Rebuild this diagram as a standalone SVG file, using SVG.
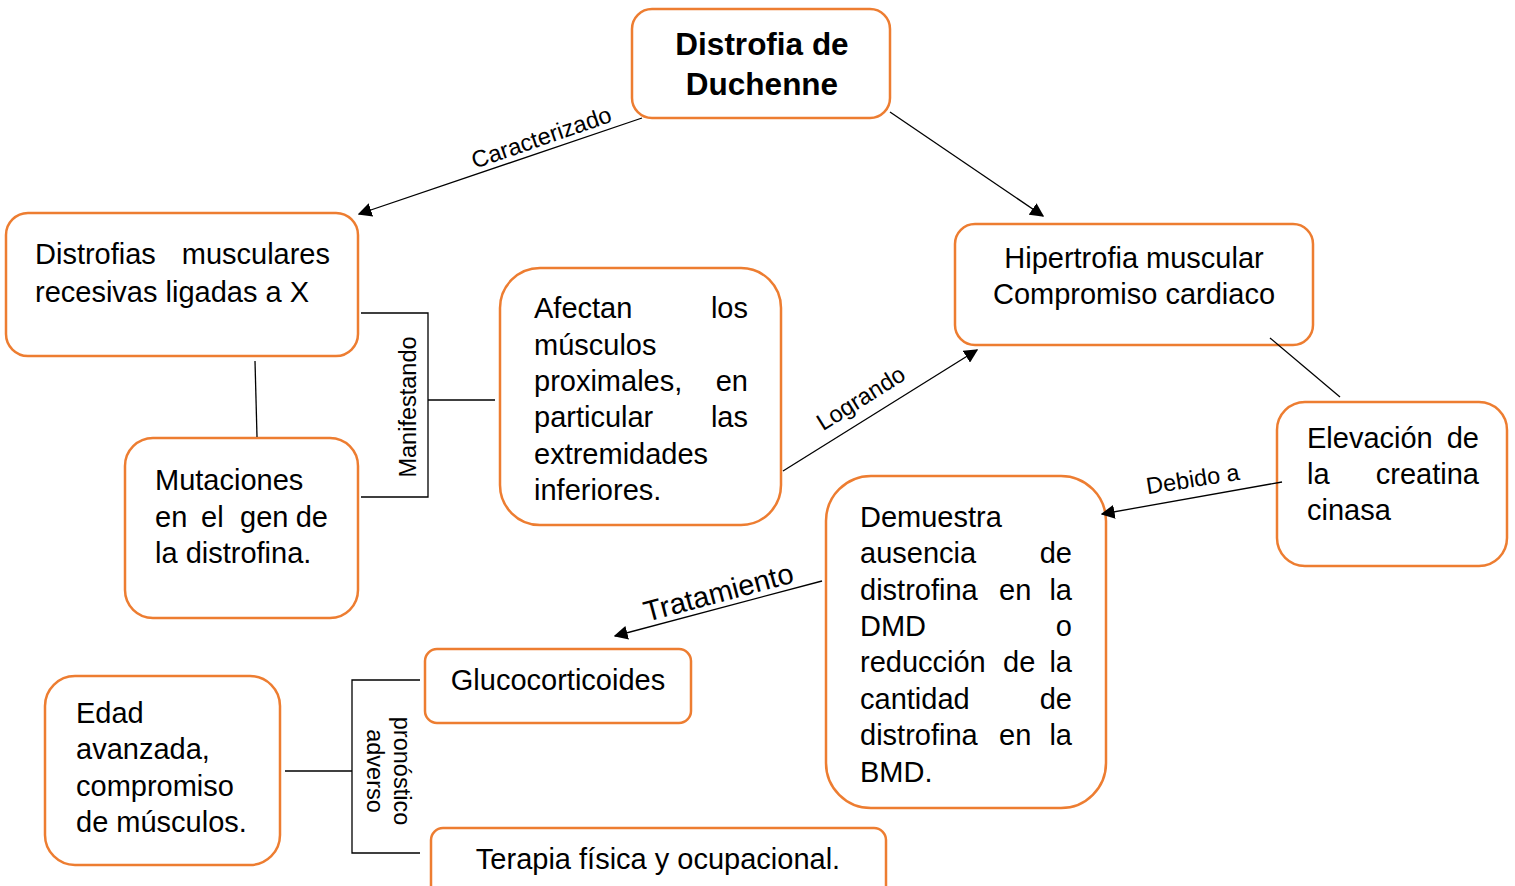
<svg xmlns="http://www.w3.org/2000/svg" width="1515" height="886" viewBox="0 0 1515 886">
<defs>
<style>
.box{fill:#fff;stroke:#ED7D31;stroke-width:2.5}
.t{font-family:"Liberation Sans",Arial,sans-serif;font-size:29px;fill:#000}
.b{font-weight:bold;font-size:31.5px}
.l{font-family:"Liberation Sans",Arial,sans-serif;font-size:23.5px;fill:#000}
.c{stroke:#000;stroke-width:1.3;fill:none}
.e{text-anchor:end}
.m{text-anchor:middle}
</style>
<marker id="ah" viewBox="0 0 10 10" refX="9" refY="5" markerWidth="14" markerHeight="14" markerUnits="userSpaceOnUse" orient="auto"><path d="M0,0 L10,5 L0,10 z" fill="#000"/></marker>
</defs>
<rect width="1515" height="886" fill="#fff"/>
<g id="n1">
<rect class="box" x="632" y="9" width="258" height="109" rx="20"/>
<text class="t b m" x="762" y="55">Distrofia de</text>
<text class="t b m" x="762" y="95">Duchenne</text>
</g>
<g id="n2">
<rect class="box" x="6" y="213" width="352" height="143" rx="22"/>
<text class="t" x="35" y="264">Distrofias</text><text class="t e" x="330" y="264">musculares</text>
<text class="t" x="35" y="302">recesivas ligadas a X</text>
</g>
<g id="n3">
<rect class="box" x="125" y="438" width="233" height="180" rx="28"/>
<text class="t" x="155" y="490">Mutaciones</text>
<text class="t" x="155" y="527">en</text><text class="t" x="201" y="527">el</text><text class="t" x="240" y="527">gen</text><text class="t e" x="328" y="527">de</text>
<text class="t" x="155" y="563">la distrofina.</text>
</g>
<g id="n4">
<rect class="box" x="500" y="268" width="281" height="257" rx="40"/>
<text class="t" x="534" y="318">Afectan</text><text class="t e" x="748" y="318">los</text>
<text class="t" x="534" y="355">músculos</text>
<text class="t" x="534" y="391">proximales,</text><text class="t e" x="748" y="391">en</text>
<text class="t" x="534" y="427">particular</text><text class="t e" x="748" y="427">las</text>
<text class="t" x="534" y="464">extremidades</text>
<text class="t" x="534" y="500">inferiores.</text>
</g>
<g id="n5">
<rect class="box" x="955" y="224" width="358" height="121" rx="20"/>
<text class="t m" x="1134" y="268">Hipertrofia muscular</text>
<text class="t m" x="1134" y="304">Compromiso cardiaco</text>
</g>
<g id="n6">
<rect class="box" x="1277" y="402" width="230" height="164" rx="28"/>
<text class="t" x="1307" y="448">Elevación</text><text class="t e" x="1479" y="448">de</text>
<text class="t" x="1307" y="484">la</text><text class="t e" x="1479" y="484">creatina</text>
<text class="t" x="1307" y="520">cinasa</text>
</g>
<g id="n7">
<rect class="box" x="826" y="476" width="280" height="332" rx="45"/>
<text class="t" x="860" y="527">Demuestra</text>
<text class="t" x="860" y="563">ausencia</text><text class="t e" x="1072" y="563">de</text>
<text class="t" x="860" y="600">distrofina</text><text class="t" x="999" y="600">en</text><text class="t e" x="1072" y="600">la</text>
<text class="t" x="860" y="636">DMD</text><text class="t e" x="1072" y="636">o</text>
<text class="t" x="860" y="672">reducción</text><text class="t" x="1003" y="672">de</text><text class="t e" x="1072" y="672">la</text>
<text class="t" x="860" y="709">cantidad</text><text class="t e" x="1072" y="709">de</text>
<text class="t" x="860" y="745">distrofina</text><text class="t" x="999" y="745">en</text><text class="t e" x="1072" y="745">la</text>
<text class="t" x="860" y="782">BMD.</text>
</g>
<g id="n8">
<rect class="box" x="425" y="649" width="266" height="74" rx="12"/>
<text class="t m" x="558" y="690">Glucocorticoides</text>
</g>
<g id="n9">
<rect class="box" x="45" y="676" width="235" height="189" rx="30"/>
<text class="t" x="76" y="723">Edad</text>
<text class="t" x="76" y="759">avanzada,</text>
<text class="t" x="76" y="796">compromiso</text>
<text class="t" x="76" y="832">de músculos.</text>
</g>
<g id="n10">
<rect class="box" x="431" y="828" width="455" height="70" rx="12"/>
<text class="t m" x="658" y="869">Terapia física y ocupacional.</text>
</g>
<g id="connectors">
<line class="c" x1="642" y1="118" x2="359" y2="214" marker-end="url(#ah)"/>
<text class="l m" transform="translate(544,145) rotate(-19)">Caracterizado</text>
<line class="c" x1="890" y1="112" x2="1043" y2="216" marker-end="url(#ah)"/>
<line class="c" x1="255" y1="361" x2="257" y2="437"/>
<polyline class="c" points="361,313 428,313 428,497 361,497"/>
<line class="c" x1="428" y1="400" x2="495" y2="400"/>
<text class="l m" transform="translate(416,407) rotate(-90)">Manifestando</text>
<line class="c" x1="783" y1="471" x2="977" y2="350" marker-end="url(#ah)"/>
<text class="l m" transform="translate(865,405) rotate(-32)">Logrando</text>
<line class="c" x1="1270" y1="338" x2="1340" y2="397"/>
<line class="c" x1="1282" y1="482" x2="1102" y2="514" marker-end="url(#ah)"/>
<text class="l m" transform="translate(1194,487) rotate(-9)">Debido a</text>
<line class="c" x1="822" y1="581" x2="615" y2="636" marker-end="url(#ah)"/>
<text class="t m" transform="translate(721,602) rotate(-15)">Tratamiento</text>
<polyline class="c" points="420,680 352,680 352,853 420,853"/>
<line class="c" x1="285" y1="771" x2="352" y2="771"/>
<text class="l m" transform="translate(394,771) rotate(90)">pronóstico</text>
<text class="l m" transform="translate(367,771) rotate(90)">adverso</text>
</g>
</svg>
